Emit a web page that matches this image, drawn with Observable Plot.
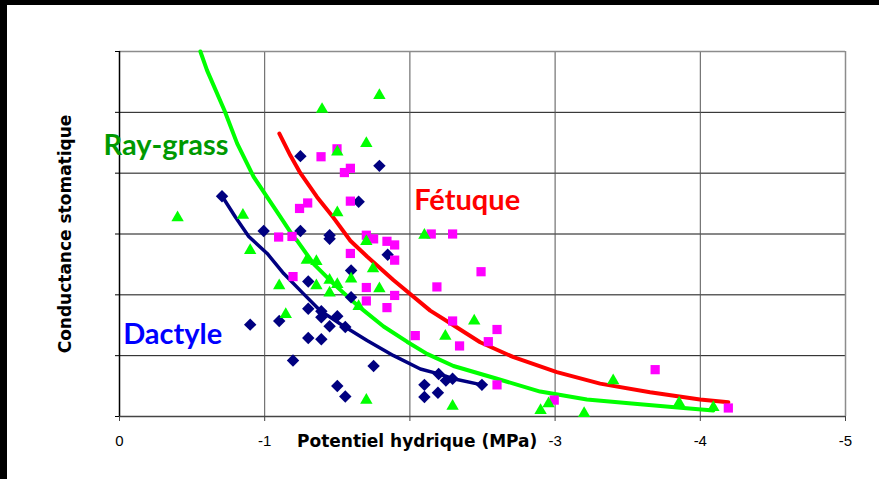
<!DOCTYPE html>
<html>
<head>
<meta charset="utf-8">
<script src="https://cdn.jsdelivr.net/npm/d3@7"></script>
<script src="https://cdn.jsdelivr.net/npm/@observablehq/plot@0.6"></script>
<style>
  html, body { margin: 0; padding: 0; background: white; }
  #wrap { position: relative; width: 879px; height: 479px; overflow: hidden; }
  .band { position: absolute; background: black; }
</style>
</head>
<body>
<div id="wrap">
  <div id="chart"></div>
  <div class="band" style="left:0;top:0;width:879px;height:5px;"></div>
  <div class="band" style="left:0;top:0;width:7px;height:479px;"></div>
</div>
<script>
// ---- Data ----
// Ray-grass (green triangles)
const ryeX = [-1.79,-1.395,-1.70,-1.50,-0.40,-0.85,-1.50,-2.10,-0.90,-1.70,-1.29,-1.356,-1.10,-1.356,-1.447,-1.50,-1.447,-1.595,-1.746,-1.79,-1.647,-1.145,-1.70,-2.244,-2.443,-2.294,-2.90,-2.955,-3.20,-3.40,-3.854,-4.09];
const ryeY = [5.28,5.05,4.49,4.35,3.27,3.31,3.35,2.98,2.73,2.88,2.57,2.55,2.15,2.15,2.24,2.17,2.03,2.26,2.43,2.10,1.81,1.68,0.27,1.32,1.57,0.17,0.10,0.21,0.05,0.59,0.225,0.15];
// Dactyle (navy diamonds)
const dacX = [-0.706,-1.246,-1.79,-1.647,-0.993,-1.246,-1.447,-1.447,-1.847,-1.595,-1.30,-1.595,-1.30,-1.39,-1.39,-1.50,-1.447,-1.555,-0.90,-1.10,-1.30,-1.39,-1.195,-1.75,-1.50,-1.555,-2.10,-2.10,-2.193,-2.198,-2.248,-2.294,-2.496];
const dacY = [3.62,4.28,4.12,3.53,3.05,3.05,2.98,2.92,2.66,2.40,2.22,1.96,1.77,1.73,1.63,1.65,1.485,1.47,1.51,1.57,1.29,1.27,0.92,0.83,0.50,0.33,0.52,0.32,0.39,0.70,0.59,0.62,0.52];
// Fétuque (magenta squares)
const fetX = [-1.498,-1.388,-1.59,-1.549,-1.59,-1.296,-1.24,-1.096,-1.188,-1.59,-1.70,-1.75,-1.842,-1.895,-1.895,-1.195,-1.70,-1.895,-1.70,-1.842,-2.037,-2.147,-2.294,-2.49,-2.186,-2.294,-2.60,-2.54,-2.342,-2.60,-2.994,-3.689,-4.193];
const fetY = [4.40,4.27,4.08,4.01,3.54,3.51,3.42,2.95,2.96,2.68,2.98,2.92,2.88,2.82,2.57,2.30,2.12,1.99,1.90,1.79,1.33,3.00,3.00,2.38,2.13,1.57,1.43,1.23,1.16,0.52,0.27,0.77,0.14];

// Fitted curves
const ryeCurveX = [-0.557,-0.603,-0.723,-0.81,-0.924,-1.016,-1.108,-1.2,-1.223,-1.337,-1.475,-1.647,-1.819,-1.98,-2.118,-2.30,-2.60,-2.897,-3.219,-3.586,-3.884,-4.09];
const ryeCurveY = [6.0,5.69,5.03,4.49,3.94,3.61,3.28,2.95,2.89,2.51,2.18,1.81,1.48,1.23,1.03,0.83,0.62,0.41,0.28,0.20,0.14,0.10];
const fetCurveX = [-1.101,-1.177,-1.246,-1.36,-1.473,-1.59,-1.705,-1.888,-2.14,-2.30,-2.484,-2.714,-3.012,-3.31,-3.654,-3.998,-4.193];
const fetCurveY = [4.65,4.29,4.0,3.61,3.27,2.89,2.63,2.24,1.74,1.50,1.22,0.975,0.73,0.54,0.40,0.28,0.235];
const dacCurveX = [-0.707,-0.798,-0.89,-1.017,-1.131,-1.266,-1.383,-1.521,-1.705,-1.888,-2.072,-2.198,-2.30,-2.496];
const dacCurveY = [3.62,3.28,2.96,2.68,2.35,2.02,1.74,1.52,1.25,1.00,0.78,0.70,0.62,0.52];

// Axis ticks and labels
const xTicks = [0, -1, -2, -3, -4, -5];
const xTickLabels = ["0", "-1", "", "-3", "-4", "-5"]; // "-2" is hidden under the axis title
const yTicks = [0, 1, 2, 3, 4, 5, 6];
const xTitle = "Potentiel hydrique (MPa)";
const yTitle = "Conductance stomatique";

// Series labels (text and anchor in data units)
const seriesNames = ["Ray-grass", "Fétuque", "Dactyle"];
const seriesLabelX = [0.11, -2.03, -0.025];
const seriesLabelY = [4.30, 3.40, 1.196];
const seriesLabelColor = ["#009900", "#ff0000", "#0000ff"];

// ---- Build tables ----
const zip = (xs, ys) => xs.map((x, i) => ({x, y: ys[i]}));
const rye = zip(ryeX, ryeY), dac = zip(dacX, dacY), fet = zip(fetX, fetY);
const ryeC = zip(ryeCurveX, ryeCurveY), fetC = zip(fetCurveX, fetCurveY), dacC = zip(dacCurveX, dacCurveY);
const labels = seriesNames.map((t, i) => ({t, x: seriesLabelX[i], y: seriesLabelY[i], c: seriesLabelColor[i]}));

const chart = Plot.plot({
  width: 879,
  height: 479,
  marginLeft: 119,
  marginRight: 34,
  marginTop: 51,
  marginBottom: 63,
  style: {background: "white", fontFamily: "Liberation Sans, Arial, sans-serif", fontSize: "16px", color: "black", overflow: "visible"},
  x: {domain: [0, -5], axis: null},
  y: {domain: [0, 6], axis: null},
  marks: [
    Plot.ruleY([1, 2, 3, 4, 5], {stroke: "#111", strokeWidth: 1}),
    Plot.ruleX([-1, -2, -3, -4], {stroke: "#555", strokeWidth: 1}),
    Plot.ruleY([6], {stroke: "#8c8c8c", strokeWidth: 1.5}),
    Plot.ruleX([-5], {stroke: "#8c8c8c", strokeWidth: 1.5}),
    Plot.ruleY([0], {stroke: "#444", strokeWidth: 1.5}),
    Plot.ruleX([0], {stroke: "#000", strokeWidth: 1.5}),
    Plot.axisX({ticks: xTicks, tickSize: 5, tickPadding: 14, stroke: "#444", label: null,
      tickFormat: (d) => xTickLabels[xTicks.indexOf(d)], fontSize: 15}),
    Plot.axisY({ticks: yTicks, tickSize: 4, stroke: "#000", label: null, tickFormat: () => ""}),
    Plot.line(ryeC, {x: "x", y: "y", stroke: "#00ff00", strokeWidth: 4}),
    Plot.line(fetC, {x: "x", y: "y", stroke: "#ff0000", strokeWidth: 4}),
    Plot.line(dacC, {x: "x", y: "y", stroke: "#000080", strokeWidth: 3.5}),
    Plot.dot(dac, {x: "x", y: "y", symbol: "diamond2", r: 5.6, fill: "#000080", stroke: "none"}),
    Plot.dot(fet, {x: "x", y: "y", symbol: "square", r: 5.2, fill: "#ff00ff", stroke: "none"}),
    Plot.dot(rye, {x: "x", y: "y", symbol: "triangle", r: 4.6, fill: "#00ff00", stroke: "none"}),
    Plot.text(labels, {x: "x", y: "y", text: "t", fill: "c", textAnchor: "start", lineAnchor: "bottom",
      fontSize: 29, fontFamily: "Lato", fontWeight: "bold"}),
    Plot.text([xTitle], {x: [-2.05], frameAnchor: "bottom", dy: 30, text: (d) => d, fill: "black",
      fontSize: 17, fontWeight: "bold", fontFamily: "DejaVu Sans", lineAnchor: "bottom"}),
    Plot.text([yTitle], {frameAnchor: "left", dx: -54, rotate: -90, text: (d) => d, fill: "black",
      fontSize: 17, fontWeight: "bold", fontFamily: "DejaVu Sans", textAnchor: "middle", lineAnchor: "middle"})
  ]
});
document.getElementById("chart").appendChild(chart);
</script>
</body>
</html>
